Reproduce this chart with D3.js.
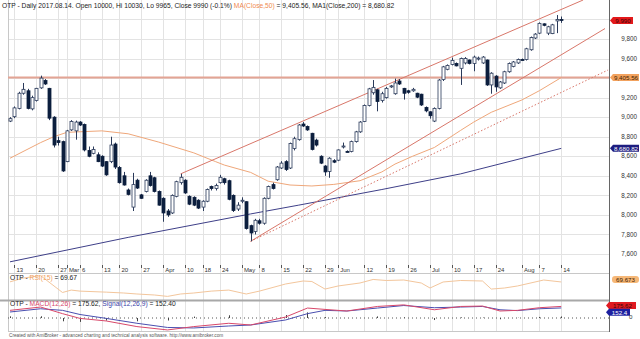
<!DOCTYPE html>
<html><head><meta charset="utf-8">
<script src="https://cdn.jsdelivr.net/npm/d3@7/dist/d3.min.js"></script>
<style>html,body{margin:0;padding:0;background:#fff;overflow:hidden}svg{display:block;font-family:"Liberation Sans",Arial,sans-serif}</style>
</head><body><svg id="c" width="640" height="339"></svg>
<script>
// ---------- DATA ----------
const dates = ["2017-02-10","2017-02-13","2017-02-14","2017-02-15","2017-02-16","2017-02-17","2017-02-20","2017-02-21","2017-02-22","2017-02-23","2017-02-24","2017-02-27","2017-02-28",
"2017-03-01","2017-03-02","2017-03-03","2017-03-06","2017-03-07","2017-03-08","2017-03-09","2017-03-10","2017-03-13","2017-03-14","2017-03-16","2017-03-17","2017-03-20","2017-03-21","2017-03-22","2017-03-23","2017-03-24","2017-03-27","2017-03-28","2017-03-29","2017-03-30","2017-03-31",
"2017-04-03","2017-04-04","2017-04-05","2017-04-06","2017-04-07","2017-04-10","2017-04-11","2017-04-12","2017-04-13","2017-04-18","2017-04-19","2017-04-20","2017-04-21","2017-04-24","2017-04-25","2017-04-26","2017-04-27","2017-04-28",
"2017-05-02","2017-05-03","2017-05-04","2017-05-05","2017-05-08","2017-05-09","2017-05-10","2017-05-11","2017-05-12","2017-05-15","2017-05-16","2017-05-17","2017-05-18","2017-05-19","2017-05-22","2017-05-23","2017-05-24","2017-05-25","2017-05-26","2017-05-29","2017-05-30","2017-05-31",
"2017-06-01","2017-06-02","2017-06-06","2017-06-07","2017-06-08","2017-06-09","2017-06-12","2017-06-13","2017-06-14","2017-06-15","2017-06-16","2017-06-19","2017-06-20","2017-06-21","2017-06-22","2017-06-23","2017-06-26","2017-06-27","2017-06-28","2017-06-29","2017-06-30",
"2017-07-03","2017-07-04","2017-07-05","2017-07-06","2017-07-07","2017-07-10","2017-07-11","2017-07-12","2017-07-13","2017-07-14","2017-07-17","2017-07-18","2017-07-19","2017-07-20","2017-07-21","2017-07-24","2017-07-25","2017-07-26","2017-07-27","2017-07-28","2017-07-31",
"2017-08-01","2017-08-02","2017-08-03","2017-08-04","2017-08-07","2017-08-08","2017-08-09","2017-08-10","2017-08-11","2017-08-14"];

const open  = [8960,9005,9090,9245,9270,9085,9170,9300,9375,9295,9000,8760,8750,8545,8870,8860,8950,8925,8660,8630,8615,8600,8545,8545,8725,8485,8400,8255,8080,8355,8205,8240,8400,8380,8240,8170,8040,8020,8190,8330,8355,8190,8180,8150,
8080,8140,8290,8270,8330,8370,8350,8200,8060,8140,8135,7890,7830,7940,7915,8170,8310,8360,8480,8545,8480,8680,8770,8930,8905,8835,8765,8600,8500,8445,8555,8560,8700,8650,8650,8750,8850,8955,9120,9250,9280,9170,9200,9310,9240,9370,9295,9270,9270,9245,9235,9100,9055,8960,9090,9385,9490,9540,9550,9500,9555,9585,9550,9595,9555,9585,9330,9420,9300,9350,9465,9520,9555,9590,9590,9690,9810,9860,9955,9860,9855,9985,10000];
const high  = [9000,9110,9260,9350,9290,9220,9300,9425,9390,9300,9010,8800,8760,8870,8970,8965,8960,8935,8700,8700,8640,8610,8550,8800,8740,8500,8440,8270,8430,8370,8215,8365,8440,8390,8250,8180,8060,8210,8350,8420,8365,8200,8190,8160,
8150,8270,8300,8320,8410,8380,8360,8210,8130,8180,8140,7900,7960,7960,8180,8300,8330,8500,8550,8560,8740,8800,8930,8950,8915,8840,8780,8610,8510,8590,8570,8670,8740,8660,8760,8860,8960,9130,9300,9380,9290,9260,9310,9330,9395,9390,9300,9280,9300,9250,9240,9110,9060,9100,9390,9525,9540,9610,9560,9610,9615,9590,9630,9620,9625,9590,9460,9430,9370,9475,9560,9575,9600,9600,9710,9825,9860,9970,9960,9935,9955,10045,10030];
const low   = [8950,8990,9080,9230,9080,9070,9160,9290,9330,8970,8690,8710,8440,8540,8860,8770,8910,8650,8590,8620,8540,8490,8400,8530,8470,8320,8300,8200,8040,8265,8165,8230,8290,8230,8095,7930,7980,8010,8180,8310,8215,8100,8090,8060,
8040,8130,8250,8250,8320,8310,8150,8030,8040,8120,7850,7730,7800,7900,7900,8160,8260,8350,8470,8450,8470,8660,8760,8900,8860,8660,8700,8520,8400,8380,8530,8550,8680,8640,8640,8740,8840,8950,9110,9230,9060,9150,9190,9300,9230,9330,9180,9240,9260,9195,9115,9050,8985,8950,9080,9370,9480,9530,9520,9330,9540,9540,9470,9580,9545,9320,9240,9260,9290,9340,9455,9510,9545,9580,9580,9680,9800,9850,9930,9840,9850,9860,9965];
const close = [8985,9095,9245,9285,9090,9200,9295,9400,9340,8990,8715,8740,8450,8860,8955,8950,8920,8665,8600,8670,8545,8500,8410,8715,8490,8330,8306,8210,8310,8275,8170,8355,8300,8240,8100,8020,8000,8200,8340,8385,8225,8110,8100,8070,
8140,8260,8270,8300,8385,8330,8160,8045,8100,8150,7860,7815,7945,7915,8170,8290,8270,8490,8530,8465,8730,8780,8920,8910,8870,8670,8715,8530,8440,8580,8540,8665,8705,8645,8750,8850,8950,9120,9290,9305,9160,9240,9295,9320,9350,9340,9245,9255,9285,9205,9125,9065,9015,9090,9380,9515,9530,9580,9525,9600,9600,9550,9615,9605,9615,9330,9450,9310,9360,9465,9550,9565,9590,9588,9700,9815,9850,9960,9940,9925,9945,10000,9990];

// moving averages (candle index, value)
const ma50Idx = [0,7,10,13,21,27,34,42,47,49,55,59,64,69,74,80,85,88,92,97,103,106,110,117,121,126];
const ma50Val = [8580,8740,8800,8845,8860,8830,8745,8635,8545,8510,8435,8345,8306,8296,8312,8350,8440,8520,8600,8690,8865,8950,9050,9176,9271,9405.56];
const ma200Idx = [0,27,55,66,85,103,126];
const ma200Val = [7520,7770,8010,8100,8260,8420,8680.82];

// RSI(15)
const rsiIdx = [0,3,7,12,14,16,22,26,29,33,36,39,42,46,50,54,57,63,67,69,72,75,80,83,86,90,94,96,99,103,108,110,113,116,122,126];
const rsiVal = [70,81,88,39,46,43,40,37.5,34.6,31.7,27.6,34.6,37.5,43,46,34.6,43,63.8,72.5,71,49,58,66.7,77,74,75.4,66.7,52,69.6,74,72.5,49,52,58,75.4,69.67];

// MACD(12,26) and Signal(12,26,9)
const macdIdx   = [0,7,12,16,22,29,36,42,50,55,63,68,72,77,84,90,97,103,108,112,116,121,126];
const macdVal   = [116,166,66,-6,-45,-130,-181,-130,-80,-106,15,151,130,106,175,199,125,175,181,106,116,156,175.62];
const signalVal = [91,140,116,53,-6,-80,-143,-151,-121,-106,-30,66,116,106,151,189,156,166,175,125,112,140,152.40];

const priceTicks = [7600,7800,8000,8200,8400,8600,8800,9000,9200,9400,9600,9800,10000];
const priceLabels = [7600,7800,8000,8200,8400,8600,8800,9000,9200,9600,9800];
const tickIdx   = [1,6,11,13,16,21,25,30,35,40,44,48,53,57,62,67,72,75,81,86,91,96,101,106,111,117,121,126];
const tickText  = ["13","20","27","Mar","6","13","20","27","Apr","10","18","24","May","8","15","22","29","Jun","12","19","26","Jul","10","17","24","Aug","7","14"];

// drawn study lines: [index, value] endpoints
const upperLine  = [[39,8420],[131,10199]];
const lowerLine  = [[55,7730],[136,9907]];
const dottedLine = [[55,7730],[136.7,9483]];
const hLineVal = 9405.56;

// ---------- DRAW ----------
const svg = d3.select("#c");
const W = 640, AX = 609, LEFT = 8;
const x = d3.scaleLinear().domain([0,126]).range([10, 561.25]);
const y = d3.scaleLinear().domain([7600,9800]).range([254,39]);
const yR = d3.scaleLinear().domain([20,90]).range([299,275]);
const yM = d3.scaleLinear().domain([-200,200]).range([331.2,304.8]);

const defs = svg.append("defs");
defs.append("clipPath").attr("id","mainClip").append("rect").attr("x",LEFT).attr("y",0).attr("width",AX-LEFT).attr("height",263);
defs.append("clipPath").attr("id","rsiClip").append("rect").attr("x",LEFT).attr("y",274).attr("width",AX-LEFT).attr("height",25);
defs.append("clipPath").attr("id","macdClip").append("rect").attr("x",LEFT).attr("y",302).attr("width",AX-LEFT).attr("height",30);

svg.append("rect").attr("width",W).attr("height",339).attr("fill","#fff");

// grid
const grid = svg.append("g");
grid.selectAll("line.h").data(priceTicks).join("line")
  .attr("x1",LEFT).attr("x2",AX).attr("y1",d=>Math.round(y(d))+0.5).attr("y2",d=>Math.round(y(d))+0.5)
  .attr("stroke","#e3e3e3").attr("stroke-width",1);
grid.selectAll("line.v").data(tickIdx).join("line")
  .attr("x1",d=>Math.round(x(d))+0.5).attr("x2",d=>Math.round(x(d))+0.5).attr("y1",0).attr("y2",331)
  .attr("stroke","#e3e3e3").attr("stroke-width",1);

// pane frames
svg.append("line").attr("x1",LEFT+0.5).attr("x2",LEFT+0.5).attr("y1",0).attr("y2",331).attr("stroke","#c8c8c8");
svg.append("line").attr("x1",LEFT).attr("x2",AX).attr("y1",273.5).attr("y2",273.5).attr("stroke","#c8c8c8");
svg.append("rect").attr("x",0).attr("y",299.5).attr("width",AX).attr("height",2).attr("fill","#a8a8a8");
svg.append("line").attr("x1",LEFT).attr("x2",AX).attr("y1",331.5).attr("y2",331.5).attr("stroke","#c8c8c8");
svg.append("line").attr("x1",AX+0.5).attr("x2",AX+0.5).attr("y1",0).attr("y2",332).attr("stroke","#666");

// main pane content
const main = svg.append("g").attr("clip-path","url(#mainClip)");
const lineXY = d3.line().x(d=>x(d[0])).y(d=>y(d[1]));

main.append("line").attr("x1",LEFT).attr("x2",AX).attr("y1",y(hLineVal)).attr("y2",y(hLineVal))
  .attr("stroke","#e3a494").attr("stroke-width",2);
main.append("path").attr("d",lineXY(ma200Idx.map((d,i)=>[d,ma200Val[i]]))).attr("fill","none").attr("stroke","#3e3f88").attr("stroke-width",1);
main.append("path").attr("d",lineXY(ma50Idx.map((d,i)=>[d,ma50Val[i]]))).attr("fill","none").attr("stroke","#efa77a").attr("stroke-width",1);
main.append("path").attr("d",lineXY(upperLine)).attr("fill","none").attr("stroke","#d9776a").attr("stroke-width",1);
main.append("path").attr("d",lineXY(lowerLine)).attr("fill","none").attr("stroke","#d9776a").attr("stroke-width",1);
main.append("path").attr("d",lineXY(dottedLine)).attr("fill","none").attr("stroke","#d9776a").attr("stroke-width",1).attr("stroke-dasharray","1.5,2");

// candles
const idx = d3.range(dates.length);
const cg = main.append("g");
cg.selectAll("line.w").data(idx).join("line")
  .attr("x1",i=>Math.round(x(i))+0.5).attr("x2",i=>Math.round(x(i))+0.5)
  .attr("y1",i=>y(high[i])).attr("y2",i=>y(low[i]))
  .attr("stroke","#2a3a5a").attr("stroke-width",1);
cg.selectAll("rect.b").data(idx).join("rect")
  .attr("x",i=>Math.round(x(i))-1)
  .attr("width",3)
  .attr("y",i=>y(Math.max(open[i],close[i])))
  .attr("height",i=>Math.max(1,Math.abs(y(open[i])-y(close[i]))))
  .attr("fill",i=>close[i]>=open[i]?"#fff":"#0c1e3e")
  .attr("stroke",i=>close[i]>=open[i]?"#2a3a5a":"#0c1e3e")
  .attr("stroke-width",0.8);

// price axis labels (9,400 and 10,000 are covered by the value tags in the reference)
const axg = svg.append("g").attr("font-size","6.3px").attr("fill","#333");
axg.selectAll("text").data(priceLabels).join("text")
  .attr("x",637).attr("y",d=>y(d)+2.2).attr("text-anchor","end").text(d=>d3.format(",")(d));

function tag(yc, x0, x1, fill, textColor, label, fs){
  const h=7;
  svg.append("path").attr("d",`M${x0},${yc} L${x0+3},${yc-h/2} L${x1},${yc-h/2} L${x1},${yc+h/2} L${x0+3},${yc+h/2} Z`).attr("fill",fill);
  svg.append("text").attr("x",(x0+3+x1)/2).attr("y",yc+2.2).attr("text-anchor","middle").attr("font-size",fs||"6.2px").attr("fill",textColor).text(label);
}
tag(y(close[126]), 610, 633, "#e3191b", "#3a0505", d3.format(",")(close[126]));
tag(y(hLineVal), 610, 639, "#f2a25e", "#402000", d3.format(",.2f")(hLineVal));
tag(y(ma200Val[ma200Val.length-1]), 610, 639, "#1d1d80", "#fff", d3.format(",.2f")(ma200Val[ma200Val.length-1]));

// x labels
const xl = svg.append("g").attr("font-size","6px").attr("fill","#333");
xl.selectAll("text").data(tickIdx).join("text")
  .attr("x",i=>x(i)+2).attr("y",271.5).text((d,k)=>tickText[k]);
xl.selectAll("line").data(tickIdx).join("line")
  .attr("x1",i=>Math.round(x(i))+0.5).attr("x2",i=>Math.round(x(i))+0.5).attr("y1",265).attr("y2",268).attr("stroke","#555");

// title
const title = svg.append("text").attr("x",2).attr("y",7.5).attr("font-size","6.7px").attr("fill","#222");
[["OTP - Daily 2017.08.14. Open 10000, Hi 10030, Lo 9965, Close 9990 (-0.1%) ","#222"],["MA(Close,50)","#ef8a50"],[" = 9,405.56, ","#222"],["MA1(Close,200)","#222"],[" = 8,680.82","#222"]]
 .forEach(p=>title.append("tspan").attr("fill",p[1]).text(p[0]));

// RSI pane
const rg = svg.append("g").attr("clip-path","url(#rsiClip)");
rg.append("path").attr("d",d3.line().x(d=>x(d[0])).y(d=>yR(d[1]))(rsiIdx.map((d,i)=>[d,rsiVal[i]])))
  .attr("fill","none").attr("stroke","#f3c69c").attr("stroke-width",1);
const rt = svg.append("text").attr("x",10).attr("y",279.5).attr("font-size","6.7px").attr("fill","#222");
[["OTP - ","#222"],["RSI(15)","#f0a060"],[" = 69.67","#222"]].forEach(p=>rt.append("tspan").attr("fill",p[1]).text(p[0]));
svg.append("rect").attr("x",612).attr("y",276).attr("width",27).attr("height",7).attr("rx",3).attr("fill","#f6b878");
svg.append("text").attr("x",625.5).attr("y",281.6).attr("text-anchor","middle").attr("font-size","6.2px").attr("fill","#402000").text("69.673");

// MACD pane
const mg = svg.append("g").attr("clip-path","url(#macdClip)");
mg.append("line").attr("x1",LEFT).attr("x2",AX).attr("y1",yM(0)).attr("y2",yM(0)).attr("stroke","#555").attr("stroke-dasharray","1,3");
mg.selectAll("line.hist").data(macdIdx).join("line")
  .attr("x1",d=>Math.round(x(d))+0.5).attr("x2",d=>Math.round(x(d))+0.5)
  .attr("y1",yM(0)).attr("y2",(d,i)=>yM(macdVal[i]-signalVal[i]))
  .attr("stroke","#444").attr("stroke-width",1);
mg.append("path").attr("d",d3.line().x(d=>x(d[0])).y(d=>yM(d[1]))(macdIdx.map((d,i)=>[d,signalVal[i]])))
  .attr("fill","none").attr("stroke","#4a4fb0").attr("stroke-width",1);
mg.append("path").attr("d",d3.line().x(d=>x(d[0])).y(d=>yM(d[1]))(macdIdx.map((d,i)=>[d,macdVal[i]])))
  .attr("fill","none").attr("stroke","#d8486a").attr("stroke-width",1);
const mt = svg.append("text").attr("x",10).attr("y",306).attr("font-size","6.7px").attr("fill","#222");
[["OTP - ","#222"],["MACD(12,26)","#d8486a"],[" = 175.62, ","#222"],["Signal(12,26,9)","#3a3fa8"],[" = 152.40","#222"]].forEach(p=>mt.append("tspan").attr("fill",p[1]).text(p[0]));
tag(305.5, 606, 636, "#e01a20", "#3a0505", "175.62");
tag(312.3, 606, 630, "#1d20a0", "#fff", "152.4");
svg.append("text").attr("x",629).attr("y",319).attr("font-size","6.2px").attr("fill","#333").text("0");

// footer
svg.append("text").attr("x",9).attr("y",337).attr("font-size","4.7px").attr("fill","#555")
  .text("Created with AmiBroker - advanced charting and technical analysis software. http://www.amibroker.com");
</script></body></html>
